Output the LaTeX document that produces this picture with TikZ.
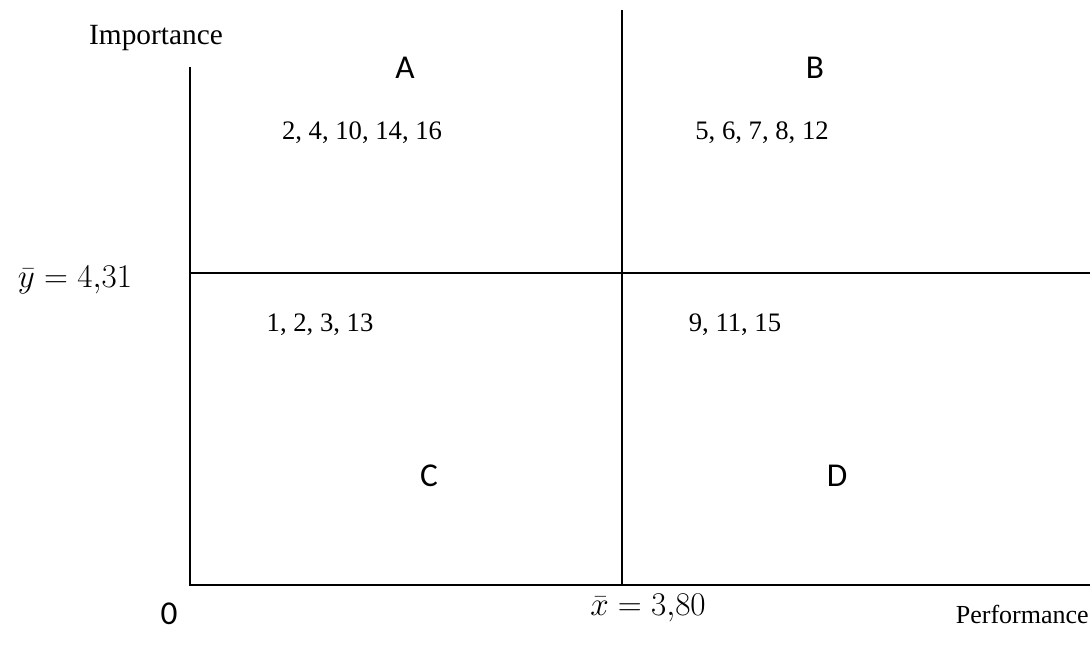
\documentclass[tikz,border=0pt]{standalone}
\usepackage{fontspec}
\setmainfont{Liberation Serif}
\newfontfamily\calib{Carlito}
\begin{document}
\begin{tikzpicture}[x=0.75pt,y=-0.75pt,
  axisline/.style={line width=1.5pt,black},
  serlabel/.style={inner sep=0pt,font=\fontsize{22}{26}\selectfont},
  numlabel/.style={inner sep=0pt,font=\fontsize{20}{24}\selectfont},
  quadlabel/.style={inner sep=0pt,font=\calib\fontsize{25}{30}\selectfont},
  mathlabel/.style={inner sep=0pt,font=\fontsize{26}{30}\selectfont}]
\useasboundingbox (0,0) rectangle (1090,649);
% axis coordinates
\coordinate (o) at (190,585);
\coordinate (ytop) at (190,67);
\coordinate (xend) at (1090,585);
\coordinate (mtop) at (622,10);
\coordinate (mbot) at (622,585);
\coordinate (hl) at (190,273);
\coordinate (hr) at (1090,273);
\draw[axisline] (ytop) -- (o) -- (xend);
\draw[axisline] (mtop) -- (mbot);
\draw[axisline] (hl) -- (hr);
% labels
\node[serlabel] (imp) at (156,38) {Importance};
\node[serlabel,font=\fontsize{19.5}{23}\selectfont,anchor=east] (perf) at (1089,614) {Performance};
\node[quadlabel] (qa) at (405,68) {A};
\node[quadlabel] (qb) at (815,68) {B};
\node[quadlabel] (qc) at (429,476) {C};
\node[quadlabel] (qd) at (837,476) {D};
\node[quadlabel] (zero) at (169,614) {0};
\node[numlabel] (na) at (362,133) {2, 4, 10, 14, 16};
\node[numlabel] (nb) at (762,133) {5, 6, 7, 8, 12};
\node[numlabel] (nc) at (320,325) {1, 2, 3, 13};
\node[numlabel] (nd) at (735,325) {9, 11, 15};
\node[mathlabel] (ybar) at (75,280) {$\bar{y} = 4{,}31$};
\node[mathlabel] (xbar) at (648,608) {$\bar{x} = 3{,}80$};
\end{tikzpicture}
\end{document}
